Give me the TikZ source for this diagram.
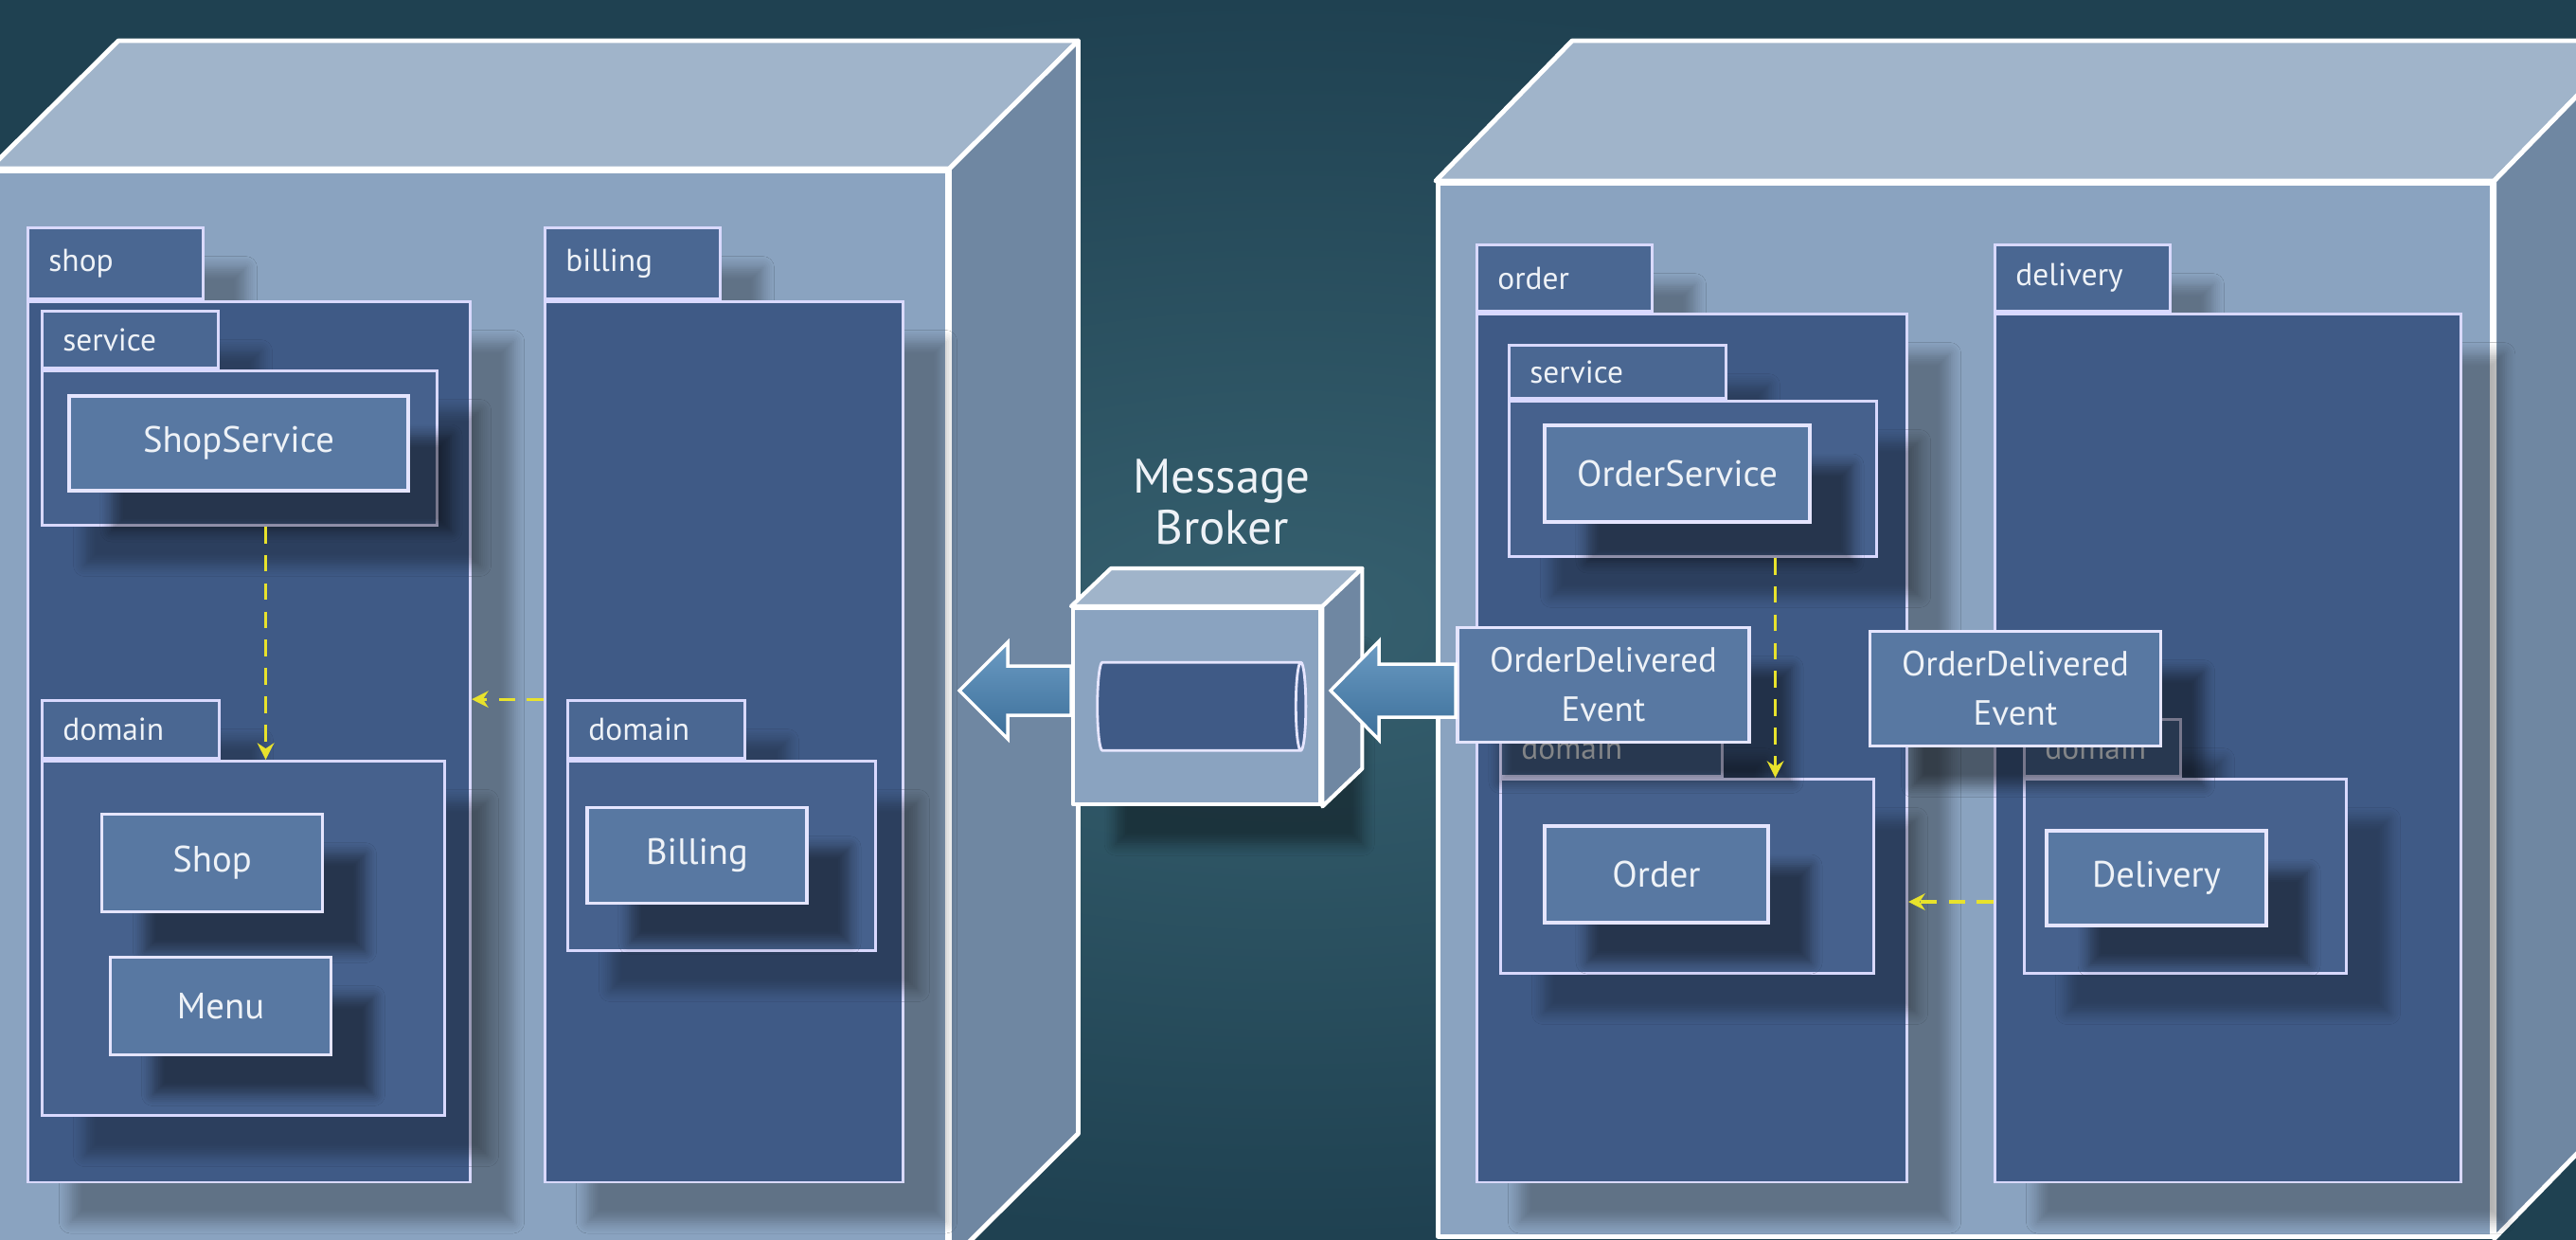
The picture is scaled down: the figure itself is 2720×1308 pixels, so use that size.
\documentclass[tikz,border=0pt]{standalone}
\usepackage{fontspec}
\setmainfont{PT Sans}
\usepackage{tikz}
\usetikzlibrary{calc,shadows,shadows.blur,shapes.geometric,arrows.meta}

\definecolor{bgdark}{HTML}{1F4151}
\definecolor{bgmid}{HTML}{36606F}
\definecolor{facefront}{HTML}{8AA3C0}
\definecolor{facetop}{HTML}{A0B4CA}
\definecolor{faceside}{HTML}{6F87A2}
\definecolor{pkgfill}{HTML}{3F5A86}
\definecolor{tabfill}{HTML}{4A6792}
\definecolor{innerfill}{HTML}{46618D}
\definecolor{boxfill}{HTML}{5878A2}
\definecolor{arrowblue}{HTML}{4682B4}
\definecolor{depyellow}{HTML}{E8E22C}
\definecolor{labelwhite}{HTML}{EEF2F7}

\tikzset{
    softshadow/.style={blur shadow={shadow xshift=0.45cm, shadow yshift=-0.42cm,
        shadow blur radius=0.12cm, shadow blur steps=6, shadow opacity=#1}},
    softshadow/.default=30,
    cubefront/.style={draw=white, line width=1.4pt, fill=facefront,
        anchor=north west, inner sep=0pt, line join=round},
    cubetop/.style={draw=white, line width=1.4pt, fill=facetop, line join=round},
    cubeside/.style={draw=white, line width=1.4pt, fill=faceside, line join=round},
    pkgtab/.style={draw=white!85!blue, line width=0.8pt, fill=tabfill, softshadow,
        anchor=south west, align=left, inner xsep=0.22cm, text=labelwhite,
        font=\fontsize{9.5}{11}\selectfont},
    pkgbody/.style={draw=white!85!blue, line width=0.8pt, fill=pkgfill, softshadow,
        anchor=north west, inner sep=0pt},
    innerbody/.style={pkgbody, fill=innerfill},
    classbox/.style={draw=white!90!blue, line width=1pt, fill=boxfill, softshadow=45,
        text=labelwhite, inner sep=0pt, font=\fontsize{11}{13}\selectfont},
    eventbox/.style={classbox, align=center, font=\fontsize{10.5}{14.8}\selectfont},
    depends/.style={draw=depyellow, line width=0.9pt, dash pattern=on 5pt off 3.5pt,
        -{Stealth[length=5pt,width=5pt]}},
    fatarrow/.style={draw=white, line width=1pt, top color=arrowblue!80!white,
        bottom color=arrowblue!85!black, line join=miter},
}

\begin{document}
\begin{tikzpicture}[x=0.01cm, y=-0.01cm]
    \useasboundingbox (0,0) rectangle (2720,1308);
    \clip (0,0) rectangle (2720,1308);

    % Background
    \shade [inner color=bgmid, outer color=bgdark] (0,0) rectangle (2720,1308);

    % Left node (shop + billing)
    \node [cubefront,
    minimum width=10.08cm,
    minimum height=11.48cm] (leftnode) at (-11,178){};
    \draw [cubetop] (leftnode.north west) -- ++(136,-135)
        -- ($(leftnode.north east)+(136,-135)$) -- (leftnode.north east) -- cycle;
    \draw [cubeside] (leftnode.north east) -- ++(136,-135)
        -- ($(leftnode.south east)+(136,-135)$) -- (leftnode.south east) -- cycle;

    % Package shop
    \node [pkgtab, text width=1.41cm, minimum height=0.75cm] (shoptab) at (28,317){shop};
    \node [pkgbody, minimum width=4.67cm, minimum height=9.29cm] (shopbody) at (shoptab.south west){};
    % shop.service
    \node [pkgtab, text width=1.42cm, minimum height=0.60cm] (ssvctab) at (43,390){service};
    \node [innerbody, minimum width=4.17cm, minimum height=1.63cm] (ssvcbody) at (ssvctab.south west){};
    \node [classbox, minimum width=3.58cm, minimum height=1.00cm] (shopsvc) at (252,468){ShopService};
    % shop.domain
    \node [pkgtab, text width=1.43cm, minimum height=0.61cm] (sdomtab) at (43,802){domain};
    \node [innerbody, minimum width=4.25cm, minimum height=3.74cm] (sdombody) at (sdomtab.south west){};
    \node [classbox, minimum width=2.33cm, minimum height=1.03cm] (shop) at (224,911){Shop};
    \node [classbox, minimum width=2.33cm, minimum height=1.03cm] (menu) at (233,1062){Menu};

    % Package billing
    \node [pkgtab, text width=1.41cm, minimum height=0.75cm] (billtab) at (574,317){billing};
    \node [pkgbody, minimum width=3.78cm, minimum height=9.29cm] (billbody) at (billtab.south west){};
    % billing.domain
    \node [pkgtab, text width=1.43cm, minimum height=0.61cm] (bdomtab) at (598,802){domain};
    \node [innerbody, minimum width=3.25cm, minimum height=2.00cm] (bdombody) at (bdomtab.south west){};
    \node [classbox, minimum width=2.32cm, minimum height=1.01cm] (billing) at (736,903){Billing};

    % Right node (order + delivery)
    \node [cubefront,
    minimum width=11.12cm,
    minimum height=11.11cm] (rightnode) at (1516,191){};
    \draw [cubetop] (rightnode.north west) -- ++(144,-148)
        -- ($(rightnode.north east)+(144,-148)$) -- (rightnode.north east) -- cycle;
    \draw [cubeside] (rightnode.north east) -- ++(144,-148)
        -- ($(rightnode.south east)+(144,-148)$) -- (rightnode.south east) -- cycle;

    % Package order
    \node [pkgtab, text width=1.41cm, minimum height=0.70cm] (ordtab) at (1558,330){order};
    \node [pkgbody, minimum width=4.54cm, minimum height=9.16cm] (ordbody) at (ordtab.south west){};
    % order.service
    \node [pkgtab, text width=1.85cm, minimum height=0.56cm] (osvctab) at (1592,422){service};
    \node [innerbody, minimum width=3.88cm, minimum height=1.64cm] (osvcbody) at (osvctab.south west){};
    \node [classbox, minimum width=2.80cm, minimum height=1.02cm] (ordsvc) at (1771,500){OrderService};
    % order.domain
    \node [pkgtab, text width=1.90cm, minimum height=0.60cm] (odomtab) at (1583,821){domain};
    \node [innerbody, minimum width=3.94cm, minimum height=2.05cm] (odombody) at (odomtab.south west){};
    \node [classbox, minimum width=2.36cm, minimum height=1.02cm] (order) at (1749,923){Order};

    % Package delivery
    \node [pkgtab, text width=1.41cm, minimum height=0.70cm] (deltab) at (2105,330){delivery};
    \node [pkgbody, minimum width=4.92cm, minimum height=9.16cm] (delbody) at (deltab.south west){};
    % delivery.domain
    \node [pkgtab, text width=1.21cm, minimum height=0.60cm] (ddomtab) at (2136,821){domain};
    \node [innerbody, minimum width=3.40cm, minimum height=2.05cm] (ddombody) at (ddomtab.south west){};
    \node [classbox, minimum width=2.32cm, minimum height=1.00cm] (delivery) at (2277,927){Delivery};

    % Message broker
    \node [cubefront,
    minimum width=2.61cm,
    minimum height=2.07cm,
    line width=1.2pt,
    softshadow=40] (broker) at (1131,640){};
    \draw [cubetop, line width=1.2pt] (broker.north west) -- ++(42,-40)
        -- ($(broker.north east)+(42,-40)$) -- (broker.north east) -- cycle;
    \draw [cubeside, line width=1.2pt] (broker.north east) -- ++(42,-40)
        -- ($(broker.south east)+(42,-40)$) -- (broker.south east) -- cycle;
    \node [cylinder,
    draw=white!90!blue,
    line width=0.8pt,
    cylinder uses custom fill,
    cylinder body fill=pkgfill,
    cylinder end fill=innerfill,
    shape aspect=0.45,
    minimum width=0.93cm,
    minimum height=2.2cm] (queue) at (broker.center){};
    \node [text=labelwhite, align=center,
    font=\fontsize{14.5}{15.6}\selectfont] (brokerlabel) at (1290,530){Message\\Broker};

    % Event flow through the broker
    \coordinate (ltip) at (1013,729);
    \coordinate (rtip) at (1405,729);
    \node [eventbox, minimum width=3.08cm, minimum height=1.21cm] (event1) at (1693,723){OrderDelivered\\Event};
    \node [eventbox, minimum width=3.07cm, minimum height=1.21cm] (event2) at (2128,727){OrderDelivered\\Event};
    \draw [fatarrow] (ltip) -- ++(51,-51) -- ++(0,25) -- ($(broker.west |- ltip)+(0,-26)$)
        -- ($(broker.west |- ltip)+(0,26)$) -- ($(ltip)+(51,26)$) -- ++(0,25) -- cycle;
    \draw [fatarrow] (rtip) -- ++(51,-52) -- ++(0,24) -- ($(event1.west |- rtip)+(0,-28)$)
        -- ($(event1.west |- rtip)+(0,28)$) -- ($(rtip)+(51,28)$) -- ++(0,24) -- cycle;

    % Dependencies
    \draw [depends] ([xshift=0.275cm]ssvcbody.south) -- ([xshift=0.275cm]ssvcbody.south |- sdombody.north);
    \draw [depends] (bdomtab.north -| billbody.west) -- (bdomtab.north -| shopbody.east);
    \draw [depends] ([xshift=0.87cm]osvcbody.south) -- ([xshift=0.87cm]osvcbody.south |- odombody.north);
    \draw [depends] ([yshift=-0.25cm]delivery.west -| delbody.west) -- ([yshift=-0.25cm]delivery.west -| ordbody.east);
\end{tikzpicture}
\end{document}
